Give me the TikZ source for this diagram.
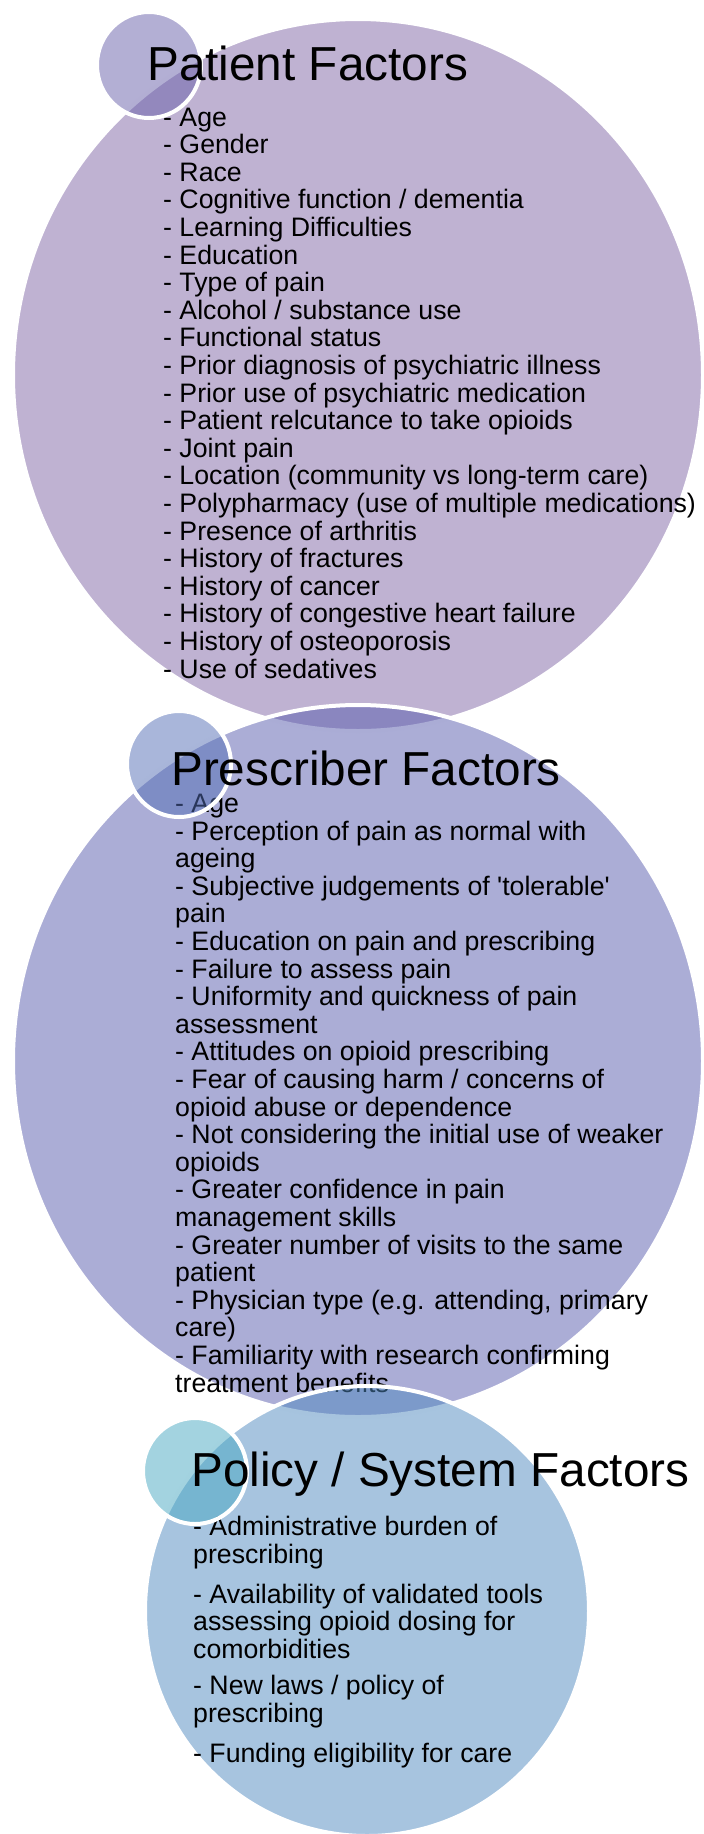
\documentclass[tikz,border=0pt]{standalone}
\usepackage{fontspec}
\setmainfont{Liberation Sans}
\usetikzlibrary{shapes.geometric}
\definecolor{cE1}{RGB}{127,101,165}
\definecolor{cE2}{RGB}{87,91,173}
\definecolor{cE3}{RGB}{79,137,191}
\definecolor{cS1}{RGB}{103,95,169}
\definecolor{cS2}{RGB}{83,109,181}
\definecolor{cS3}{RGB}{71,167,193}
\tikzset{
  bigell/.style={ellipse, draw=white, line width=4pt, fill opacity=0.5, inner sep=0pt},
  smallell/.style={ellipse, draw=white, line width=4pt, fill opacity=0.5, inner sep=0pt,
     minimum width=104pt, minimum height=106pt},
  title/.style={anchor=base west, inner sep=0pt, font=\fontsize{47.7}{50}\selectfont},
  body/.style={anchor=base west, inner sep=0pt, align=left, font=\fontsize{26.7}{27.6}\selectfont}
}
\begin{document}
\begin{tikzpicture}[x=1pt,y=-1pt]
\useasboundingbox (0,0) rectangle (704,1834);
% ---- Patient
\node[bigell, fill=cE1, minimum width=690pt, minimum height=712pt] (e1) at (358,375) {};
\node[body] (b1) at (163,678) {- Age\\- Gender\\- Race\\- Cognitive function / dementia\\- Learning Difficulties\\- Education\\- Type of pain\\- Alcohol / substance use\\- Functional status\\- Prior diagnosis of psychiatric illness\\- Prior use of psychiatric medication\\- Patient relcutance to take opioids\\- Joint pain\\- Location (community vs long-term care)\\- Polypharmacy (use of multiple medications)\\- Presence of arthritis\\- History of fractures\\- History of cancer\\- History of congestive heart failure\\- History of osteoporosis\\- Use of sedatives};
\node[smallell, fill=cS1] (s1) at (149,65) {};
\node[title] (t1) at (147,80) {Patient Factors};
% ---- Prescriber
\node[bigell, fill=cE2, minimum width=690pt, minimum height=712pt] (e2) at (358,1061) {};
\node[body] (b2) at (175,1392) {- Age\\- Perception of pain as normal with\\ageing\\- Subjective judgements of \textquotesingle tolerable\textquotesingle\\pain\\- Education on pain and prescribing\\- Failure to assess pain\\- Uniformity and quickness of pain\\assessment\\- Attitudes on opioid prescribing\\- Fear of causing harm / concerns of\\opioid abuse or dependence\\- Not considering the initial use of weaker\\opioids\\- Greater confidence in pain\\management skills\\- Greater number of visits to the same\\patient\\- Physician type (e.g. attending, primary\\care)\\- Familiarity with research confirming\\treatment benefits};
\node[smallell, fill=cS2] (s2) at (179,764) {};
\node[title] (t2) at (171,785) {Prescriber Factors};
% ---- Policy
\node[bigell, fill=cE3, minimum width=444pt, minimum height=450pt] (e3) at (367,1611) {};
\node[body] (b3) at (193,1762) {- Administrative burden of\\prescribing\\[12pt]- Availability of validated tools\\assessing opioid dosing for\\comorbidities\\[9pt]- New laws / policy of\\prescribing\\[12pt]- Funding eligibility for care};
\node[smallell, fill=cS3] (s3) at (195,1471) {};
\node[title] (t3) at (191,1486) {Policy / System Factors};
\end{tikzpicture}
\end{document}
